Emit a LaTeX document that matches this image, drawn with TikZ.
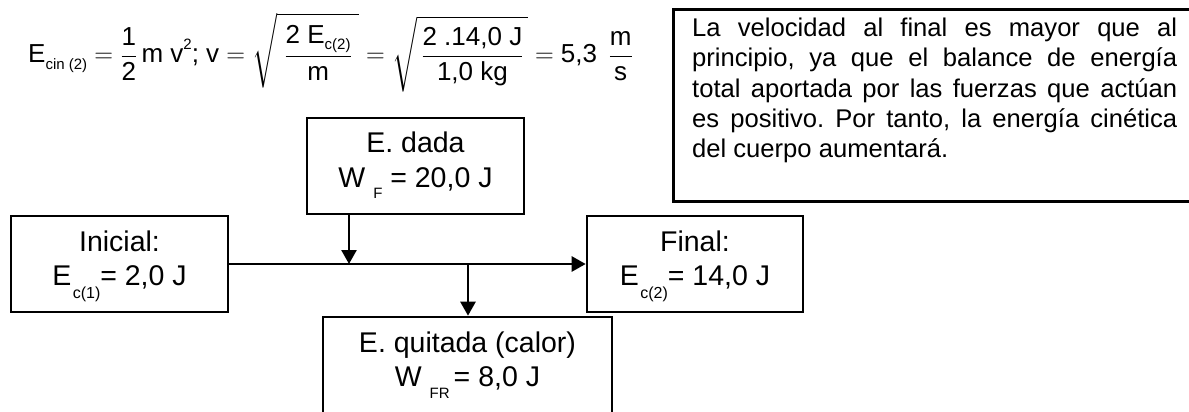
\RequirePackage{fix-cm}
\documentclass[tikz,border=0pt]{standalone}
\usepackage{amsmath}
\usepackage{fontspec}
\setmainfont{Liberation Sans}
\usetikzlibrary{arrows.meta}
\newcommand{\tx}[1]{\text{#1}}
\newcommand{\sbx}[3][15]{\raisebox{-#2pt}{\fontsize{#1}{#1}\selectfont #3}}
\frenchspacing
\tikzset{
  box/.style={draw, line width=2.6pt, inner sep=0pt},
  boxtxt/.style={inner sep=0pt, anchor=base, font=\fontsize{28.5}{34}\selectfont},
  conn/.style={line width=2.5pt, -{Triangle[length=14pt,width=15pt]}}
}
\begin{document}
\begin{tikzpicture}[x=1pt,y=-1pt]
\useasboundingbox (0,0) rectangle (1189,412);
\fill[white] (0,0) rectangle (1189,412);
% equation
\node[anchor=base west, inner sep=0pt, font=\fontsize{26}{31}\selectfont] (eq) at (28,63)
 {$\displaystyle \tx{E\sbx{7}{cin (2)}} = \frac{\tx{1}}{\tx{2}}\,\tx{m v\raisebox{13pt}{\fontsize{15}{15}\selectfont 2}; v} = \sqrt{\;\frac{\tx{2 E\sbx{6}{c(2)}}}{\tx{m}}\;} = \sqrt{\,\frac{\tx{2 .14,0 J}}{\tx{1,0 kg}}\,} = \tx{5,3}\;\,\frac{\tx{m}}{\tx{s}}$};
% note box
\node[draw, line width=2.6pt, anchor=north west, inner sep=0pt, minimum width=540pt, minimum height=192pt] (note) at (672,8) {};
\node[anchor=base west, inner sep=0pt, font=\fontsize{25.6}{30.3}\selectfont] (notetxt) at (692,36.5)
 {\parbox[t]{485pt}{\setlength\baselineskip{30.3pt}\makebox[485pt][s]{La velocidad al final es mayor que al}\\
 \makebox[485pt][s]{principio, ya que el balance de energía}\\
 \makebox[485pt][s]{total aportada por las fuerzas que actúan}\\
 \makebox[485pt][s]{es positivo. Por tanto, la energía cinética}\\
 del cuerpo aumentará.}};
% boxes
\node[box, minimum width=217pt, minimum height=96pt] (ini) at (119.5,264) {};
\node[boxtxt, yshift=-37pt] (ini1) at (ini.north) {Inicial:};
\node[boxtxt, yshift=-71pt] (ini2) at (ini.north) {E\kern1.5pt\sbx[16]{13}{c(1)}= 2,0 J};
\node[box, minimum width=217pt, minimum height=96pt] (dada) at (415.5,166) {};
\node[boxtxt, yshift=-36pt] (dada1) at (dada.north) {E. dada};
\node[boxtxt, yshift=-71pt] (dada2) at (dada.north) {W \sbx[15]{11}{F} = 20,0 J};
\node[box, minimum width=216pt, minimum height=96pt] (fin) at (695,264) {};
\node[boxtxt, yshift=-37pt] (fin1) at (fin.north) {Final:};
\node[boxtxt, yshift=-71pt] (fin2) at (fin.north) {E\kern1.5pt\sbx[16]{13}{c(2)}= 14,0 J};
\node[box, minimum width=289pt, minimum height=96pt] (qui) at (467.5,365) {};
\node[boxtxt, yshift=-37pt] (qui1) at (qui.north) {E. quitada (calor)};
\node[boxtxt, yshift=-71pt] (qui2) at (qui.north) {W \sbx[15]{12}{FR}\kern4pt= 8,0 J};
% connectors
\coordinate (j1) at (349,264);
\coordinate (j2) at (468,264);
\draw[conn] (ini.east) -- (fin.west);
\draw[conn] (dada.south -| j1) -- (j1);
\draw[conn] (j2) -- (j2 |- qui.north);
\end{tikzpicture}
\end{document}
